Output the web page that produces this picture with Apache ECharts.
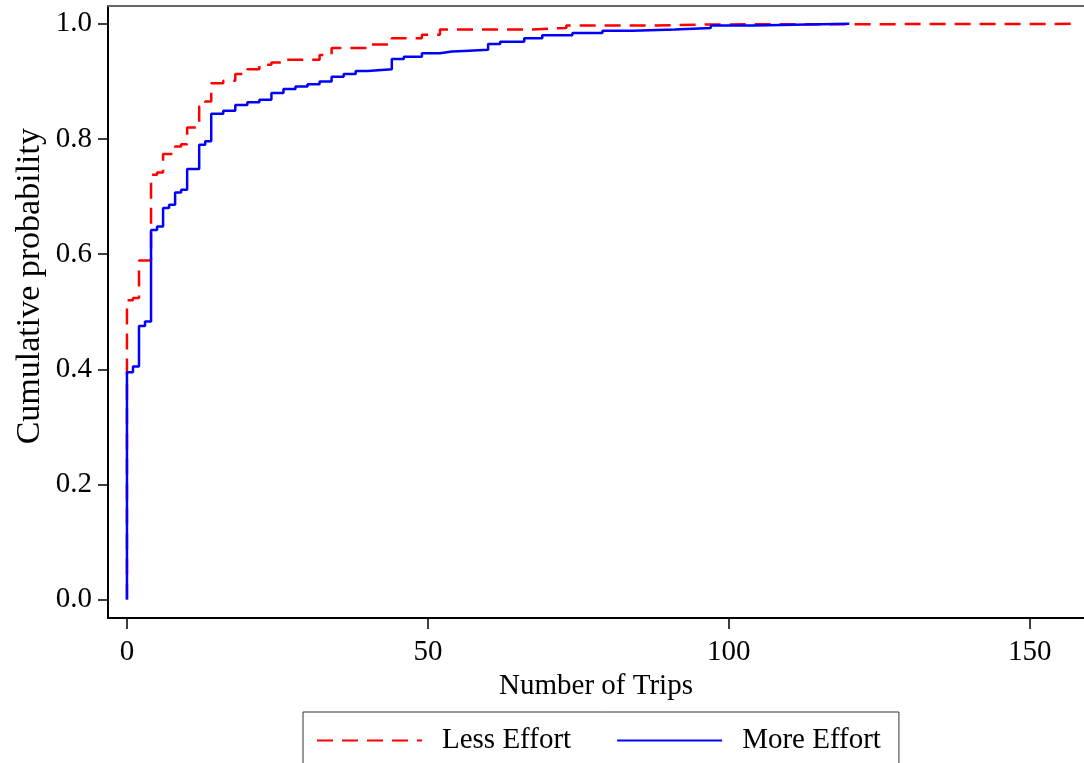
<!DOCTYPE html>
<html>
<head>
<meta charset="utf-8">
<script src="https://cdn.jsdelivr.net/npm/echarts@6/dist/echarts.min.js"></script>
<style>
  html, body { margin: 0; padding: 0; background: #fff; }
  #chart { width: 1084px; height: 763px; }
</style>
</head>
<body>
<div id="chart"></div>
<script>
// step points of the two cumulative distributions (number of trips, probability)
var lessTrips = [0, 0, 1, 2, 4, 5, 6, 8, 9, 10, 12, 13, 14, 16, 18, 20, 22, 24, 26, 32, 34, 40, 44, 49, 52, 67, 73, 87, 97, 157];
var lessProb = [0, 0.52, 0.524, 0.589, 0.738, 0.742, 0.774, 0.787, 0.791, 0.82, 0.857, 0.865, 0.897, 0.901, 0.913, 0.921, 0.929, 0.933, 0.9375, 0.946, 0.958, 0.964, 0.975, 0.981, 0.99, 0.993, 0.997, 0.999, 1.0, 1.0];

var moreTrips = [0, 0, 1, 2, 3, 4, 5, 6, 7, 8, 9, 10, 12, 13, 14, 16, 18, 20, 22, 24, 26, 28, 30, 32, 34, 36, 38, 40, 44, 46, 49, 52, 54, 56, 60, 62, 66, 69, 74, 79, 84, 91, 97, 104, 120];
var moreProb = [0, 0.395, 0.405, 0.475, 0.483, 0.642, 0.648, 0.68, 0.686, 0.707, 0.712, 0.748, 0.79, 0.796, 0.844, 0.849, 0.859, 0.864, 0.868, 0.88, 0.887, 0.891, 0.895, 0.9, 0.908, 0.913, 0.918, 0.921, 0.939, 0.943, 0.949, 0.952, 0.953, 0.955, 0.965, 0.969, 0.975, 0.98, 0.984, 0.988, 0.99, 0.993, 0.997, 1.0, 1.0];

var xTicks = [0, 50, 100, 150];
var yTicks = [0, 0.2, 0.4, 0.6, 0.8, 1.0];

function pairs(xs, ys) {
    return xs.map(function (x, i) { return [x, ys[i]]; });
}

var font = 'Liberation Serif';
var xMin = -3.15, xMax = 159;
var yMin = -0.032, yMax = 1.031;

var chart = echarts.init(document.getElementById('chart'));
chart.setOption({
    animation: false,
    textStyle: { fontFamily: font, color: '#000' },
    grid: { left: 108, right: 0, top: 6, bottom: 145 },
    legend: {
        left: 303,
        top: 712,
        padding: [14, 18, 14, 13],
        itemWidth: 105,
        itemHeight: 28,
        itemGap: 45,
        borderColor: '#333',
        borderWidth: 1,
        itemStyle: { opacity: 0 },
        textStyle: { fontFamily: font, fontSize: 29, color: '#000', padding: [0, 0, 0, 15] },
        data: ['Less Effort', 'More Effort']
    },
    xAxis: [{
        type: 'value',
        min: xMin,
        max: xMax,
        name: 'Number of Trips',
        nameLocation: 'middle',
        nameGap: 48,
        nameTextStyle: { fontFamily: font, fontSize: 29, color: '#000' },
        axisLine: { onZero: false, lineStyle: { color: '#000', width: 2 } },
        axisTick: { show: true, length: 11, customValues: xTicks, lineStyle: { color: '#000', width: 1.5 } },
        axisLabel: {
            customValues: xTicks,
            margin: 20,
            fontFamily: font, fontSize: 29, color: '#000',
            formatter: function (v) { return String(v); }
        },
        splitLine: { show: false }
    }, {
        type: 'value',
        position: 'top',
        min: xMin,
        max: xMax,
        axisLine: { onZero: false, lineStyle: { color: '#666', width: 2 } },
        axisTick: { show: false },
        axisLabel: { show: false },
        splitLine: { show: false }
    }],
    yAxis: {
        type: 'value',
        min: yMin,
        max: yMax,
        axisLine: { show: true, onZero: false, lineStyle: { color: '#000', width: 2 } },
        axisTick: { show: true, length: 10, customValues: yTicks, lineStyle: { color: '#000', width: 1.5 } },
        axisLabel: {
            customValues: yTicks,
            margin: 16,
            fontFamily: font, fontSize: 29, color: '#000',
            formatter: function (v) { return v.toFixed(1); }
        },
        splitLine: { show: false }
    },
    graphic: [{
        type: 'text',
        left: 13,
        top: 128,
        style: {
            text: 'Cumulative probability',
            fontFamily: font,
            fontSize: 34,
            fill: '#000'
        },
        rotation: Math.PI / 2,
        originX: 0,
        originY: 0
    }],
    series: [{
        name: 'Less Effort',
        type: 'line',
        step: 'end',
        symbol: 'none',
        color: '#ff0000',
        lineStyle: { color: '#ff0000', width: 2.5, type: [16, 9] },
        data: pairs(lessTrips, lessProb)
    }, {
        name: 'More Effort',
        type: 'line',
        step: 'end',
        symbol: 'none',
        color: '#0000ff',
        lineStyle: { color: '#0000ff', width: 2.5 },
        data: pairs(moreTrips, moreProb)
    }]
});
</script>
</body>
</html>
